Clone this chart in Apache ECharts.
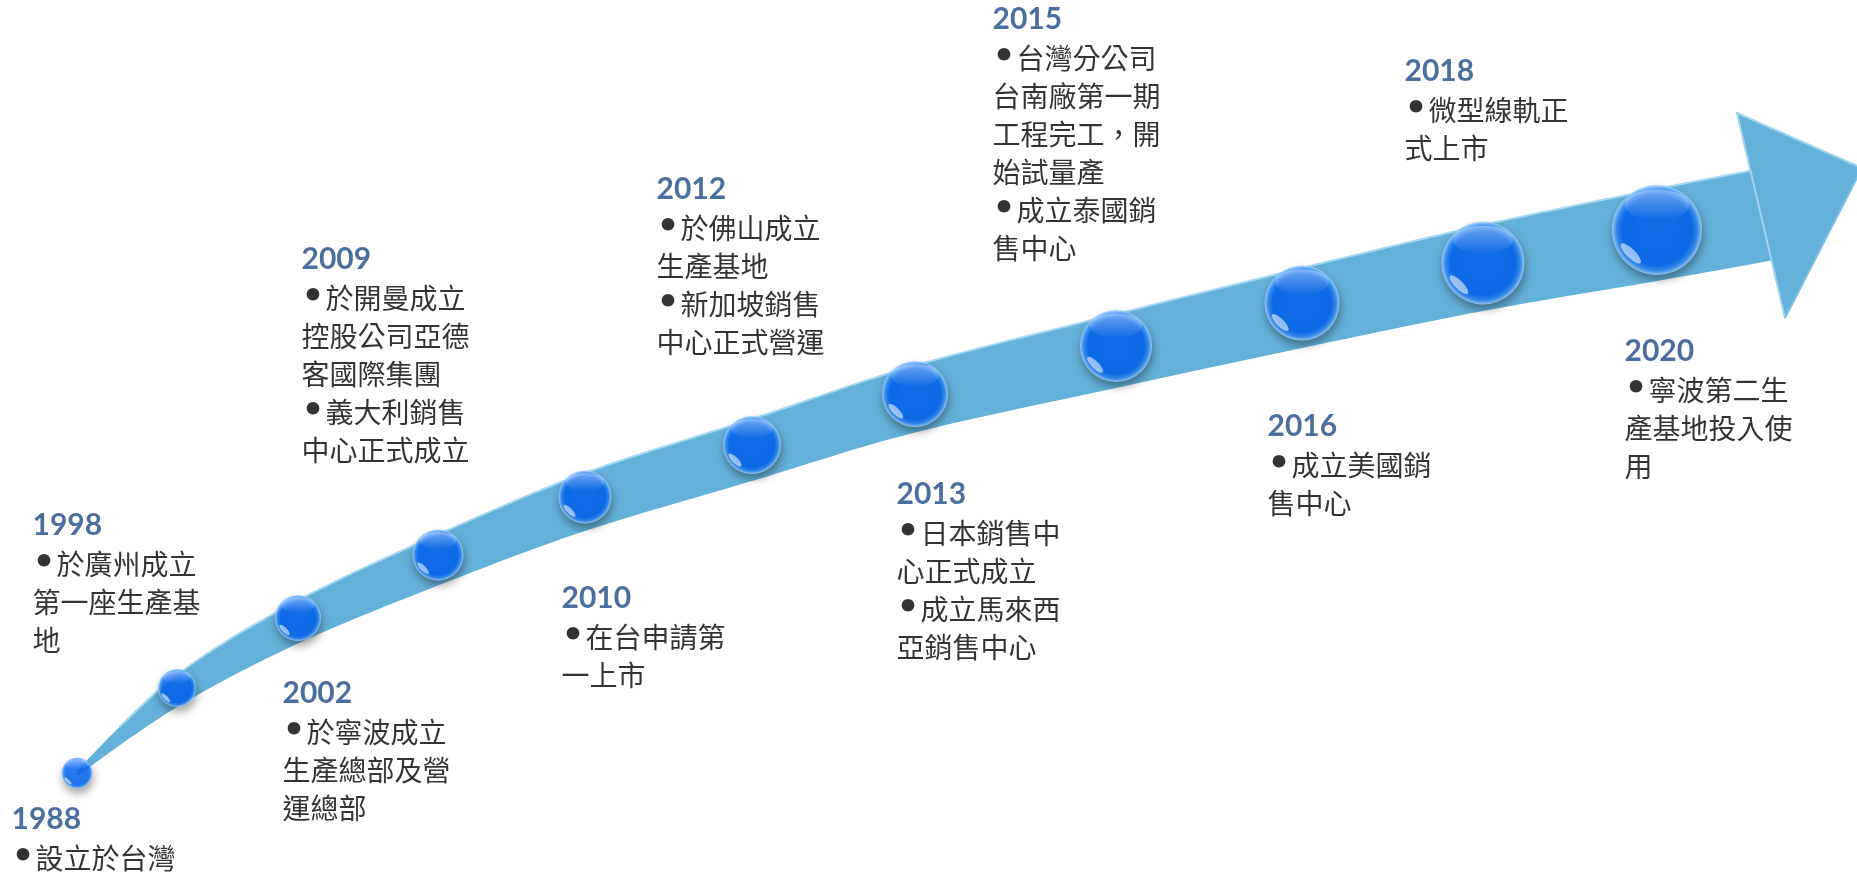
<!DOCTYPE html>
<html><head><meta charset="utf-8">
<script src="https://cdn.jsdelivr.net/npm/echarts@6/dist/echarts.min.js"></script>
<style>html,body{margin:0;padding:0;background:#fff;}#c{width:1857px;height:875px;}</style>
</head><body><div id="c"></div>
<script>
// ---- data ----
const years = ['1988','1998','2002','2009','2010','2012','2013','2015','2016','2018','2020'];
const events = [
  ['•設立於台灣'],
  ['•於廣州成立','第一座生產基','地'],
  ['•於寧波成立','生產總部及營','運總部'],
  ['•於開曼成立','控股公司亞德','客國際集團','•義大利銷售','中心正式成立'],
  ['•在台申請第','一上市'],
  ['•於佛山成立','生產基地','•新加坡銷售','中心正式營運'],
  ['•日本銷售中','心正式成立','•成立馬來西','亞銷售中心'],
  ['•台灣分公司','台南廠第一期','工程完工，開','始試量產','•成立泰國銷','售中心'],
  ['•成立美國銷','售中心'],
  ['•微型線軌正','式上市'],
  ['•寧波第二生','產基地投入使','用']
];
// milestone position along the timeline (x) and its elevation (y)
const progress  = [77, 177, 298, 438, 585, 752, 915, 1116, 1302, 1483, 1657];
const elevation = [102, 187, 257, 320, 378, 430, 481, 529, 572, 612, 645];

// ---- layout (sizes / label anchors) ----
const dotDiameter = [31, 38, 46, 51, 53, 58, 66, 72, 75, 83, 90];
const bandWidth   = [6, 32, 43, 51, 58, 62, 67, 74, 80, 86, 92];
const bandDrop    = [0, 3, 4, 5, 5, 5, 5, 5, 5, 5, 5];
const bandEnd     = [1780, 663, 94];              // x, elevation of centre, width
const arrowHead   = [[1737, 762], [1862, 707], [1785, 557]];
const labelLeft   = [12, 33, 283, 302, 562, 657, 897, 993, 1268, 1405, 1625];
const labelTop    = [75, 369, 201, 635, 296, 705, 400, 875, 468, 823, 543];

function spline(pts, n) {
  const out = [];
  for (let i = 0; i < pts.length - 1; i++) {
    const p0 = pts[i - 1] || pts[i], p1 = pts[i], p2 = pts[i + 1], p3 = pts[i + 2] || pts[i + 1];
    for (let t = 0; t < n; t++) {
      const s = t / n, s2 = s * s, s3 = s2 * s;
      out.push([0, 1].map(k => 0.5 * ((2 * p1[k]) + (-p0[k] + p2[k]) * s +
        (2 * p0[k] - 5 * p1[k] + 4 * p2[k] - p3[k]) * s2 +
        (-p0[k] + 3 * p1[k] - 3 * p2[k] + p3[k]) * s3)));
    }
  }
  out.push(pts[pts.length - 1]);
  return out;
}

function renderBand(params, api) {
  const top = [], bot = [];
  for (let i = 0; i < progress.length; i++) {
    const p = api.coord([progress[i], elevation[i]]);
    const c = p[1] + bandDrop[i];
    top.push([p[0], c - bandWidth[i] / 2]);
    bot.push([p[0], c + bandWidth[i] / 2]);
  }
  const e = api.coord([bandEnd[0], bandEnd[1]]);
  top.push([e[0], e[1] - bandEnd[2] / 2]);
  bot.push([e[0], e[1] + bandEnd[2] / 2]);
  const topS = spline(top, 12), botS = spline(bot, 12);
  const poly = topS.concat(botS.slice().reverse());
  const ah = arrowHead.map(p => api.coord(p));
  return {
    type: 'group',
    children: [
      { type: 'polygon', shape: { points: poly }, style: { fill: '#63b0d8' } },
      { type: 'polyline', shape: { points: topS.slice(6) }, style: { stroke: '#a6d8f1', lineWidth: 2, fill: null } },
      { type: 'polygon', shape: { points: ah }, style: { fill: '#63b0d8' } },
      { type: 'polyline', shape: { points: [ah[2], ah[0], ah[1]] }, style: { stroke: '#9fd4ee', lineWidth: 2, fill: null } },
      { type: 'polyline', shape: { points: [ah[1], ah[2]] }, style: { stroke: '#7cc0e3', lineWidth: 2, fill: null } }
    ]
  };
}

const dotData = progress.map((x, i) => ({ value: [x, elevation[i]], symbolSize: dotDiameter[i] }));
const glossData = progress.map((x, i) => ({
  value: [x, elevation[i]],
  symbolSize: [dotDiameter[i] * 0.72, dotDiameter[i] * 0.34],
  symbolOffset: [0, -dotDiameter[i] * 0.28]
}));
const sparkData = progress.map((x, i) => ({
  value: [x, elevation[i]],
  symbolSize: [dotDiameter[i] * 0.3, dotDiameter[i] * 0.1],
  symbolOffset: [-dotDiameter[i] * 0.29, dotDiameter[i] * 0.26],
  symbolRotate: -45
}));
const labelData = labelLeft.map((x, i) => [x, labelTop[i]]);

function fmtLine(l) {
  return l.charAt(0) === '•' ? '{b|•}{t|' + l.slice(1) + '}' : '{t|' + l + '}';
}

const chart = echarts.init(document.getElementById('c'));
chart.setOption({
  backgroundColor: '#ffffff',
  animation: false,
  grid: { left: 0, right: 0, top: 0, bottom: 0 },
  xAxis: { type: 'value', min: 0, max: 1857, show: false },
  yAxis: { type: 'value', min: 0, max: 875, show: false },
  series: [
    { type: 'custom', renderItem: renderBand, data: [0], silent: true, clip: false, z: 1 },
    {
      type: 'scatter', data: dotData, symbol: 'circle', silent: true, z: 3, clip: false,
      itemStyle: {
        color: {
          type: 'radial', x: 0.5, y: 0.5, r: 0.5,
          colorStops: [
            { offset: 0, color: '#0a6dff' },
            { offset: 0.78, color: '#0066fb' },
            { offset: 0.9, color: '#2e8bff' },
            { offset: 1, color: '#a8d6ff' }
          ]
        },
        shadowColor: 'rgba(0,0,0,0.45)', shadowBlur: 8, shadowOffsetY: 5, shadowOffsetX: 1
      }
    },
    {
      type: 'scatter', data: glossData, symbol: 'circle', silent: true, z: 4, clip: false,
      itemStyle: {
        color: {
          type: 'linear', x: 0, y: 0, x2: 0, y2: 1,
          colorStops: [
            { offset: 0, color: 'rgba(255,255,255,0.5)' },
            { offset: 1, color: 'rgba(255,255,255,0)' }
          ]
        }
      }
    },
    {
      type: 'scatter', data: sparkData, symbol: 'circle', silent: true, z: 4, clip: false,
      itemStyle: { color: 'rgba(255,255,255,0.7)' }
    },
    {
      type: 'scatter', data: labelData, symbolSize: 1, silent: true, z: 5, clip: false,
      itemStyle: { color: 'rgba(0,0,0,0)' },
      label: {
        show: true, position: [0, 0], align: 'left', verticalAlign: 'top',
        formatter: p => '{y|' + years[p.dataIndex] + '}\n' + events[p.dataIndex].map(fmtLine).join('\n'),
        rich: {
          y: { fontFamily: 'Lato', fontWeight: 'bold', fontSize: 30, color: '#1d4a85', lineHeight: 40 },
          b: { fontFamily: 'DejaVu Sans', fontWeight: 'bold', fontSize: 36, color: '#000000', lineHeight: 38, padding: [0, 1, 0, 0] },
          t: { fontFamily: '"Noto Sans CJK TC"', fontSize: 28, color: '#000000', lineHeight: 38 }
        }
      }
    }
  ]
});
</script>
</body></html>
